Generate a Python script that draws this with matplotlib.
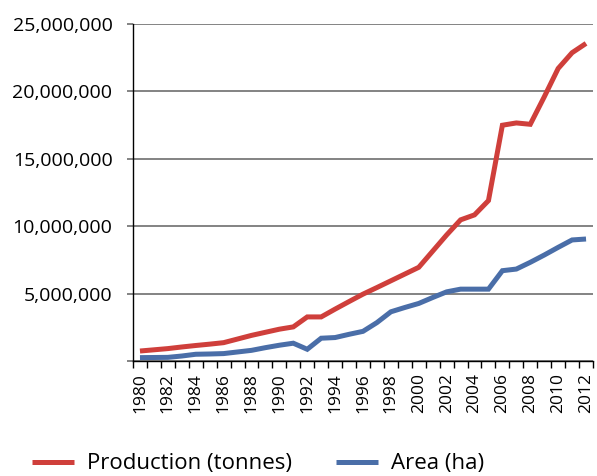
import matplotlib
matplotlib.use("Agg")
import matplotlib.pyplot as plt
from matplotlib.ticker import FuncFormatter, MultipleLocator
import numpy as np

plt.rcParams['font.family'] = ['Open Sans', 'DejaVu Sans']

years = list(range(1980, 2013))
production = [0.74e6, 0.83e6, 0.92e6, 1.04e6, 1.15e6, 1.25e6, 1.36e6, 1.63e6,
              1.90e6, 2.13e6, 2.36e6, 2.53e6, 3.27e6, 3.27e6, 3.85e6, 4.41e6,
              4.96e6, 5.45e6, 5.95e6, 6.45e6, 6.95e6, 8.15e6, 9.35e6, 10.47e6,
              10.84e6, 11.9e6, 17.49e6, 17.66e6, 17.56e6, 19.59e6, 21.7e6,
              22.87e6, 23.56e6]
area = [0.25e6, 0.26e6, 0.27e6, 0.37e6, 0.50e6, 0.52e6, 0.55e6, 0.67e6,
        0.79e6, 0.99e6, 1.17e6, 1.32e6, 0.87e6, 1.69e6, 1.74e6, 1.98e6,
        2.2e6, 2.85e6, 3.65e6, 3.97e6, 4.27e6, 4.71e6, 5.13e6, 5.33e6,
        5.33e6, 5.33e6, 6.70e6, 6.82e6, 7.32e6, 7.86e6, 8.43e6, 8.98e6,
        9.05e6]
labels = ["Production (tonnes)", "Area (ha)"]

red = "#CF3F3B"
blue = "#4A6EA8"

fig = plt.figure(figsize=(5.97, 4.76), dpi=100)
ax = fig.add_axes([133/597, 1-361/476, 460/597, 337/476])

x = np.arange(len(years))
ax.plot(x, production, color=red, lw=3.6, solid_joinstyle='miter', solid_capstyle='butt', label=labels[0])
ax.plot(x, area, color=blue, lw=3.6, solid_joinstyle='miter', solid_capstyle='butt', label=labels[1])

ax.set_xlim(-0.5, len(years) - 0.5)
ax.set_ylim(0, 25e6)
ax.yaxis.set_major_locator(MultipleLocator(5e6))
ax.yaxis.set_major_formatter(FuncFormatter(lambda v, p: "" if v == 0 else f"{int(v):,}"))
ax.grid(axis='y', color='#7a7a7a', lw=1.3)
ax.set_axisbelow(True)

ax.set_xticks(x[::2])
ax.set_xticklabels([str(y) for y in years[::2]], rotation=90, fontsize=12.5)
ax.set_xticks(np.arange(-0.5, len(years), 1.0), minor=True)
ax.tick_params(axis='x', which='major', length=0, pad=8.5)
ax.tick_params(axis='x', which='minor', length=5, width=1, color='black', direction='out')
ax.tick_params(axis='y', which='major', length=4.3, width=1.3, color='#7a7a7a', labelsize=14, pad=10.5)

for s in ['top', 'right']:
    ax.spines[s].set_visible(False)
ax.spines['left'].set_color('black')
ax.spines['bottom'].set_color('black')
ax.spines['left'].set_linewidth(1)
ax.spines['bottom'].set_linewidth(1)

fig.legend(loc='center', bbox_to_anchor=(258/597, 1-464/476), ncol=2, frameon=False,
           fontsize=16, handlelength=1.9, columnspacing=2.0, handletextpad=0.55)

fig.savefig("out.png", dpi=100)
